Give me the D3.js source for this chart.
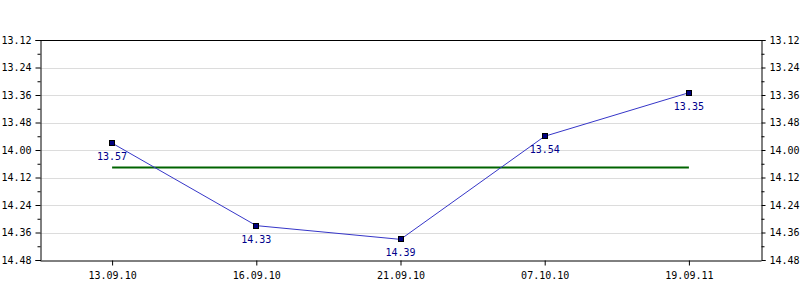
<!DOCTYPE html>
<html>
<head>
<meta charset="utf-8">
<script src="https://cdn.jsdelivr.net/npm/d3@7"></script>
<style>
  body { margin: 0; background: #fff; }
  text { font-family: "DejaVu Sans Mono", monospace; }
</style>
</head>
<body>
<div id="chart"></div>
<script>
// dates on the x axis
const dates = ["13.09.10", "16.09.10", "21.09.10", "07.10.10", "19.09.11"];
// times as shown (minutes.seconds)
const times = ["13.57", "14.33", "14.39", "13.54", "13.35"];
// average line (min.sec, fractional seconds)
const averageTime = "14.07.6";
// y tick labels
const yTicks = ["13.12", "13.24", "13.36", "13.48", "14.00", "14.12", "14.24", "14.36", "14.48"];

// convert "m.ss" or "m.ss.f" into seconds
function toSeconds(s) {
    const parts = s.split(".");
    let sec = +parts[0] * 60 + +parts[1];
    if (parts[2]) sec += +("0." + parts[2]);
    return sec;
}

const width = 800, height = 300;
const margin = { top: 40, right: 39, bottom: 40, left: 40 };

const svg = d3.select("#chart")
    .append("svg")
    .attr("width", width)
    .attr("height", height);

const xScale = d3.scalePoint()
    .domain(dates)
    .range([margin.left, width - margin.right])
    .padding(0.5);

const yScale = d3.scaleLinear()
    .domain([toSeconds(yTicks[0]), toSeconds(yTicks[yTicks.length - 1])])
    .range([margin.top, height - margin.bottom]);

const tickVals = yTicks.map(toSeconds);
const minorVals = d3.range(tickVals[0] + 6, tickVals[tickVals.length - 1], 12);

// grid lines
svg.append("g")
    .selectAll("line")
    .data(tickVals.slice(1, -1))
    .join("line")
    .attr("x1", margin.left)
    .attr("x2", width - margin.right)
    .attr("y1", d => Math.round(yScale(d)) + 0.5)
    .attr("y2", d => Math.round(yScale(d)) + 0.5)
    .attr("stroke", "#dcdcdc");

const fmt = d => yTicks[tickVals.indexOf(d)];

// left axis
svg.append("g")
    .attr("transform", `translate(${margin.left + 0.5},0)`)
    .call(d3.axisLeft(yScale).tickValues(tickVals).tickFormat(fmt).tickSize(5).tickPadding(4));
svg.append("g")
    .attr("transform", `translate(${margin.left + 0.5},0)`)
    .call(d3.axisLeft(yScale).tickValues(minorVals).tickFormat("").tickSize(3))
    .call(g => g.select(".domain").remove());

// right axis
svg.append("g")
    .attr("transform", `translate(${width - margin.right + 0.5},0)`)
    .call(d3.axisRight(yScale).tickValues(tickVals).tickFormat(fmt).tickSize(4).tickPadding(4));
svg.append("g")
    .attr("transform", `translate(${width - margin.right + 0.5},0)`)
    .call(d3.axisRight(yScale).tickValues(minorVals).tickFormat("").tickSize(3))
    .call(g => g.select(".domain").remove());

// bottom axis
svg.append("g")
    .attr("transform", `translate(0,${height - margin.bottom + 0.5})`)
    .call(d3.axisBottom(xScale).tickSize(5).tickPadding(6).tickSizeOuter(0));

// top border
svg.append("line")
    .attr("x1", margin.left)
    .attr("x2", width - margin.right + 1)
    .attr("y1", margin.top + 0.5)
    .attr("y2", margin.top + 0.5)
    .attr("stroke", "#000");

svg.selectAll(".domain").attr("stroke", "#000");
svg.selectAll(".tick text").attr("font-size", 10).attr("fill", "#000")
    .attr("font-family", "DejaVu Sans Mono, monospace");

// average line
svg.append("line")
    .attr("x1", xScale(dates[0]))
    .attr("x2", xScale(dates[dates.length - 1]))
    .attr("y1", yScale(toSeconds(averageTime)))
    .attr("y2", yScale(toSeconds(averageTime)))
    .attr("stroke", "#006400")
    .attr("stroke-width", 2);

const points = dates.map((d, i) => ({ date: d, label: times[i], value: toSeconds(times[i]) }));

// series line
svg.append("path")
    .datum(points)
    .attr("fill", "none")
    .attr("stroke", "#3636c8")
    .attr("stroke-width", 1)
    .attr("d", d3.line().x(d => xScale(d.date)).y(d => yScale(d.value)));

// markers
svg.selectAll(".marker")
    .data(points)
    .join("rect")
    .attr("class", "marker")
    .attr("x", d => Math.round(xScale(d.date)) - 2.5)
    .attr("y", d => Math.round(yScale(d.value)) - 2.5)
    .attr("width", 5)
    .attr("height", 5)
    .attr("fill", "#000080")
    .attr("stroke", "#000")
    .attr("stroke-width", 1);

// value labels
svg.selectAll(".vlabel")
    .data(points)
    .join("text")
    .attr("class", "vlabel")
    .attr("x", d => xScale(d.date))
    .attr("y", d => yScale(d.value) + 17)
    .attr("text-anchor", "middle")
    .attr("font-size", 10)
    .attr("fill", "#00008b")
    .text(d => d.label);
</script>
</body>
</html>
